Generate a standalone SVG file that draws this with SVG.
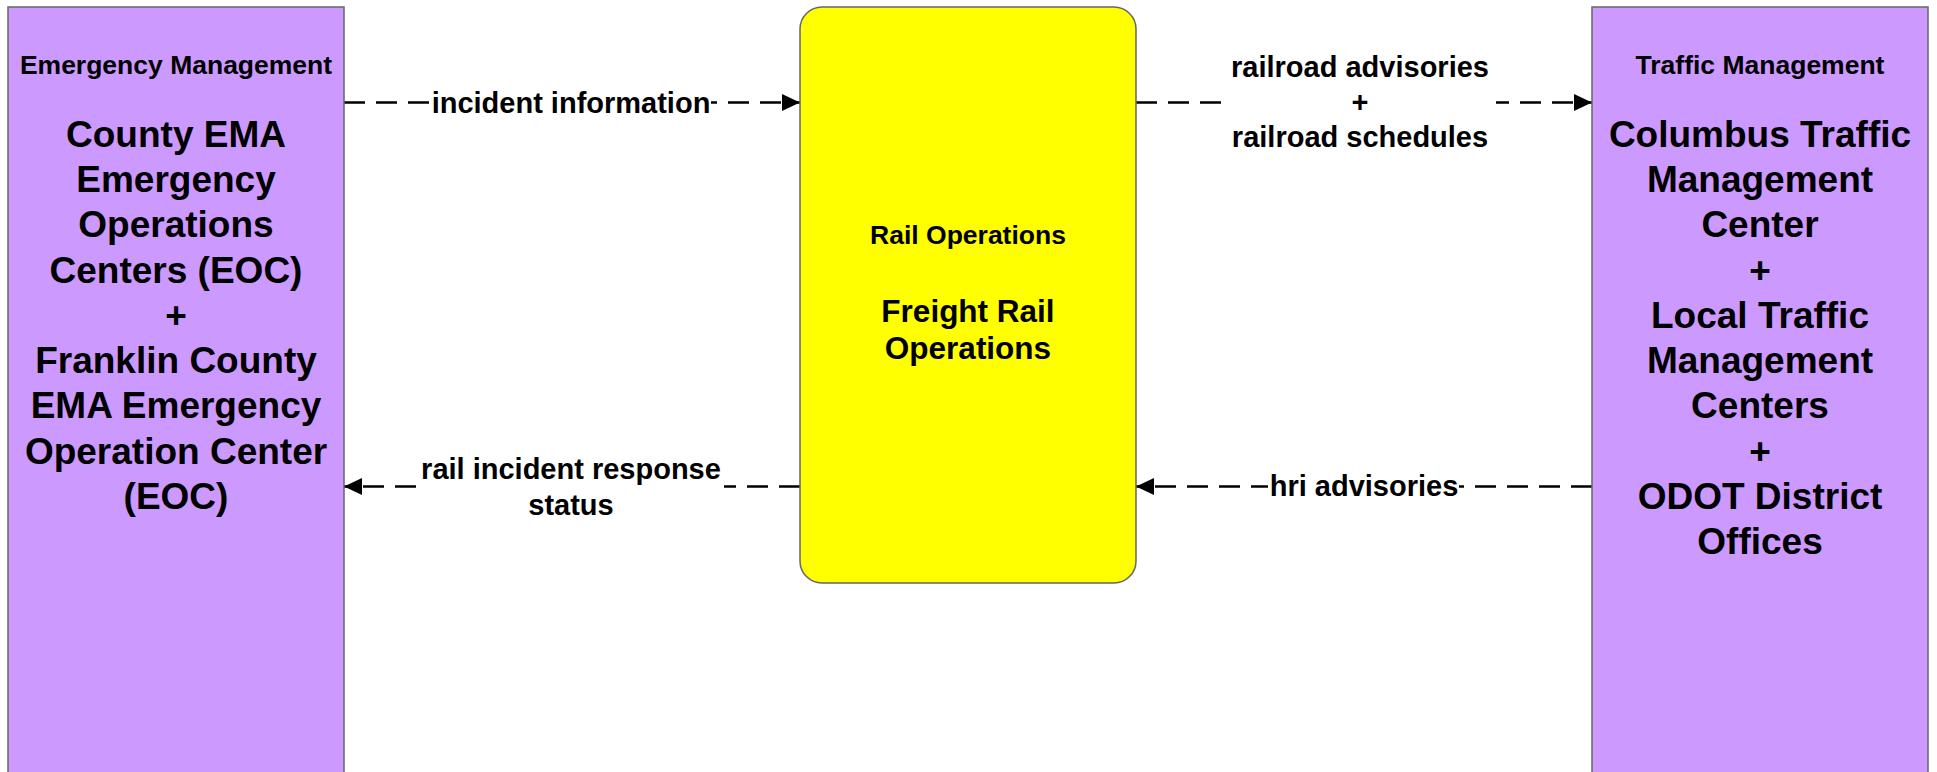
<svg xmlns="http://www.w3.org/2000/svg" width="1937" height="772" viewBox="0 0 1937 772">
<style>
.box{fill:#CC99FF;stroke:#666;stroke-width:1.5}
.rail{fill:#FFFF00;stroke:#666;stroke-width:1.5}
text{font-family:"Liberation Sans",Arial,sans-serif;font-weight:bold;fill:#000;text-anchor:middle}
.title{font-size:26.5px}
.main{font-size:37px}
.cmain{font-size:31.5px}
.lbl{font-size:29px}
.flow{stroke:#000;stroke-width:2.4;stroke-dasharray:21 11;fill:none;marker-end:url(#ah)}
.bg{fill:#fff}
</style>
<defs>
<marker id="ah" markerUnits="userSpaceOnUse" markerWidth="19" markerHeight="18" refX="18" refY="8.5" orient="auto">
<path d="M0,0 L18,8.5 L0,17 z" fill="#000"/>
</marker>
</defs>
<rect width="1937" height="772" fill="#fff"/>
<g id="connectors">
<line class="flow" x1="344" y1="102.5" x2="800" y2="102.5"/>
<line class="flow" x1="1136" y1="102.5" x2="1592" y2="102.5"/>
<line class="flow" x1="800" y1="486.5" x2="344" y2="486.5"/>
<line class="flow" x1="1592" y1="486.5" x2="1136" y2="486.5"/>
<rect class="bg" x="432" y="89" width="279" height="30"/>
<text class="lbl" x="571" y="113">incident information</text>
<rect class="bg" x="1224" y="53" width="272" height="102"/>
<text class="lbl" x="1360" y="77">railroad advisories</text>
<text class="lbl" x="1360" y="112">+</text>
<text class="lbl" x="1360" y="147">railroad schedules</text>
<rect class="bg" x="418" y="457" width="306" height="65"/>
<text class="lbl" x="571" y="479">rail incident response</text>
<text class="lbl" x="571" y="515">status</text>
<rect class="bg" x="1268" y="473" width="191" height="30"/>
<text class="lbl" x="1364" y="496">hri advisories</text>
</g>
<g id="emergency-management">
<rect class="box" x="8" y="7" width="336" height="780"/>
<text class="title" x="176" y="74">Emergency Management</text>
<text class="main" x="176" y="147">County EMA</text>
<text class="main" x="176" y="192">Emergency</text>
<text class="main" x="176" y="237">Operations</text>
<text class="main" x="176" y="283">Centers (EOC)</text>
<text class="main" x="176" y="328">+</text>
<text class="main" x="176" y="373">Franklin County</text>
<text class="main" x="176" y="418">EMA Emergency</text>
<text class="main" x="176" y="464">Operation Center</text>
<text class="main" x="176" y="509">(EOC)</text>
</g>
<g id="rail-operations">
<rect class="rail" x="800" y="7" width="336" height="576" rx="22" ry="22"/>
<text class="title" x="968" y="244">Rail Operations</text>
<text class="cmain" x="968" y="322">Freight Rail</text>
<text class="cmain" x="968" y="359">Operations</text>
</g>
<g id="traffic-management">
<rect class="box" x="1592" y="7" width="336" height="780"/>
<text class="title" x="1760" y="74">Traffic Management</text>
<text class="main" x="1760" y="147">Columbus Traffic</text>
<text class="main" x="1760" y="192">Management</text>
<text class="main" x="1760" y="237">Center</text>
<text class="main" x="1760" y="283">+</text>
<text class="main" x="1760" y="328">Local Traffic</text>
<text class="main" x="1760" y="373">Management</text>
<text class="main" x="1760" y="418">Centers</text>
<text class="main" x="1760" y="464">+</text>
<text class="main" x="1760" y="509">ODOT District</text>
<text class="main" x="1760" y="554">Offices</text>
</g>
</svg>
